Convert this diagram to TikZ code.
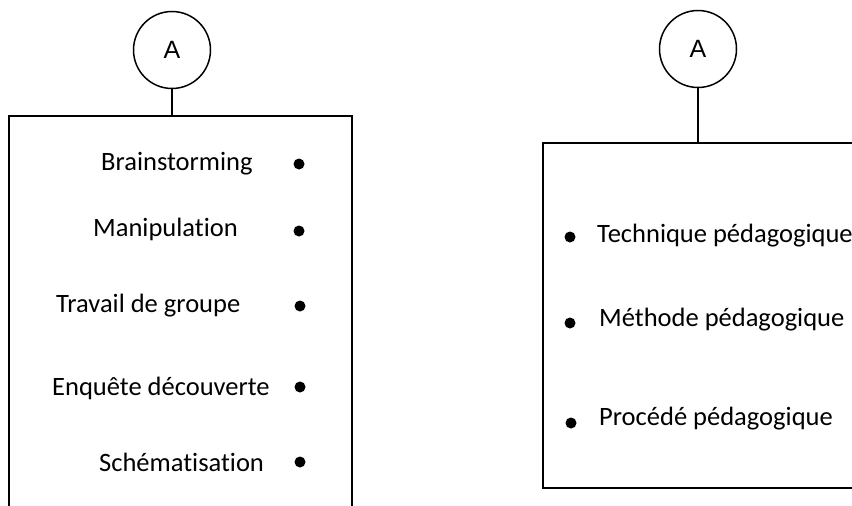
\documentclass[tikz,border=0pt]{standalone}
\usepackage{fontspec}
\setmainfont[Ligatures=NoCommon]{Carlito}
\newfontfamily\arialfont{Liberation Sans}
\begin{document}
\begin{tikzpicture}[x=1pt,y=-1pt,
  frame/.style={draw=black,line width=1.5pt},
  circ/.style={circle,draw=black,line width=1.5pt,minimum size=77pt,inner sep=0pt,font=\arialfont\fontsize{25}{30}\selectfont},
  lbl/.style={anchor=base west,inner sep=0pt,font=\fontsize{26.5}{31}\selectfont},
  dotn/.style={circle,fill=black,inner sep=0pt,minimum size=11pt}]
\useasboundingbox (0,0) rectangle (852,506);
\clip (0,0) rectangle (852,506);
% left
\node[circ] (ca) at (172,50) {A};
\coordinate (lbnw) at (9,116);
\coordinate (lbne) at (352,116);
\draw[frame] (9,530) -- (lbnw) -- (lbne) -- (352,530);
\draw[frame] (ca.south) -- (ca.south |- lbnw);
\node[lbl] (t1) at (101,170) {Brainstorming};
\node[lbl] (t2) at (93,236) {Manipulation};
\node[lbl] (t3) at (56,312) {Travail de groupe};
\node[lbl] (t4) at (52,395) {Enquête découverte};
\node[lbl] (t5) at (99,471) {Schématisation};
\node[dotn] (d1) at (299,164) {};
\node[dotn] (d2) at (299,231) {};
\node[dotn] (d3) at (300,306) {};
\node[dotn] (d4) at (300,387) {};
\node[dotn] (d5) at (300,462) {};
% right
\node[circ] (cb) at (698,49) {A};
\coordinate (rbnw) at (543,143);
\coordinate (rbsw) at (543,488);
\draw[frame] (880,143) -- (rbnw) -- (rbsw) -- (880,488);
\draw[frame] (cb.south) -- (cb.south |- rbnw);
\node[dotn] (e1) at (570,237) {};
\node[dotn] (e2) at (570,323) {};
\node[dotn] (e3) at (571,423) {};
\node[lbl] (u1) at (597,242) {Technique pédagogique};
\node[lbl] (u2) at (599,326) {Méthode pédagogique};
\node[lbl] (u3) at (599,425) {Procédé pédagogique};
\end{tikzpicture}
\end{document}
